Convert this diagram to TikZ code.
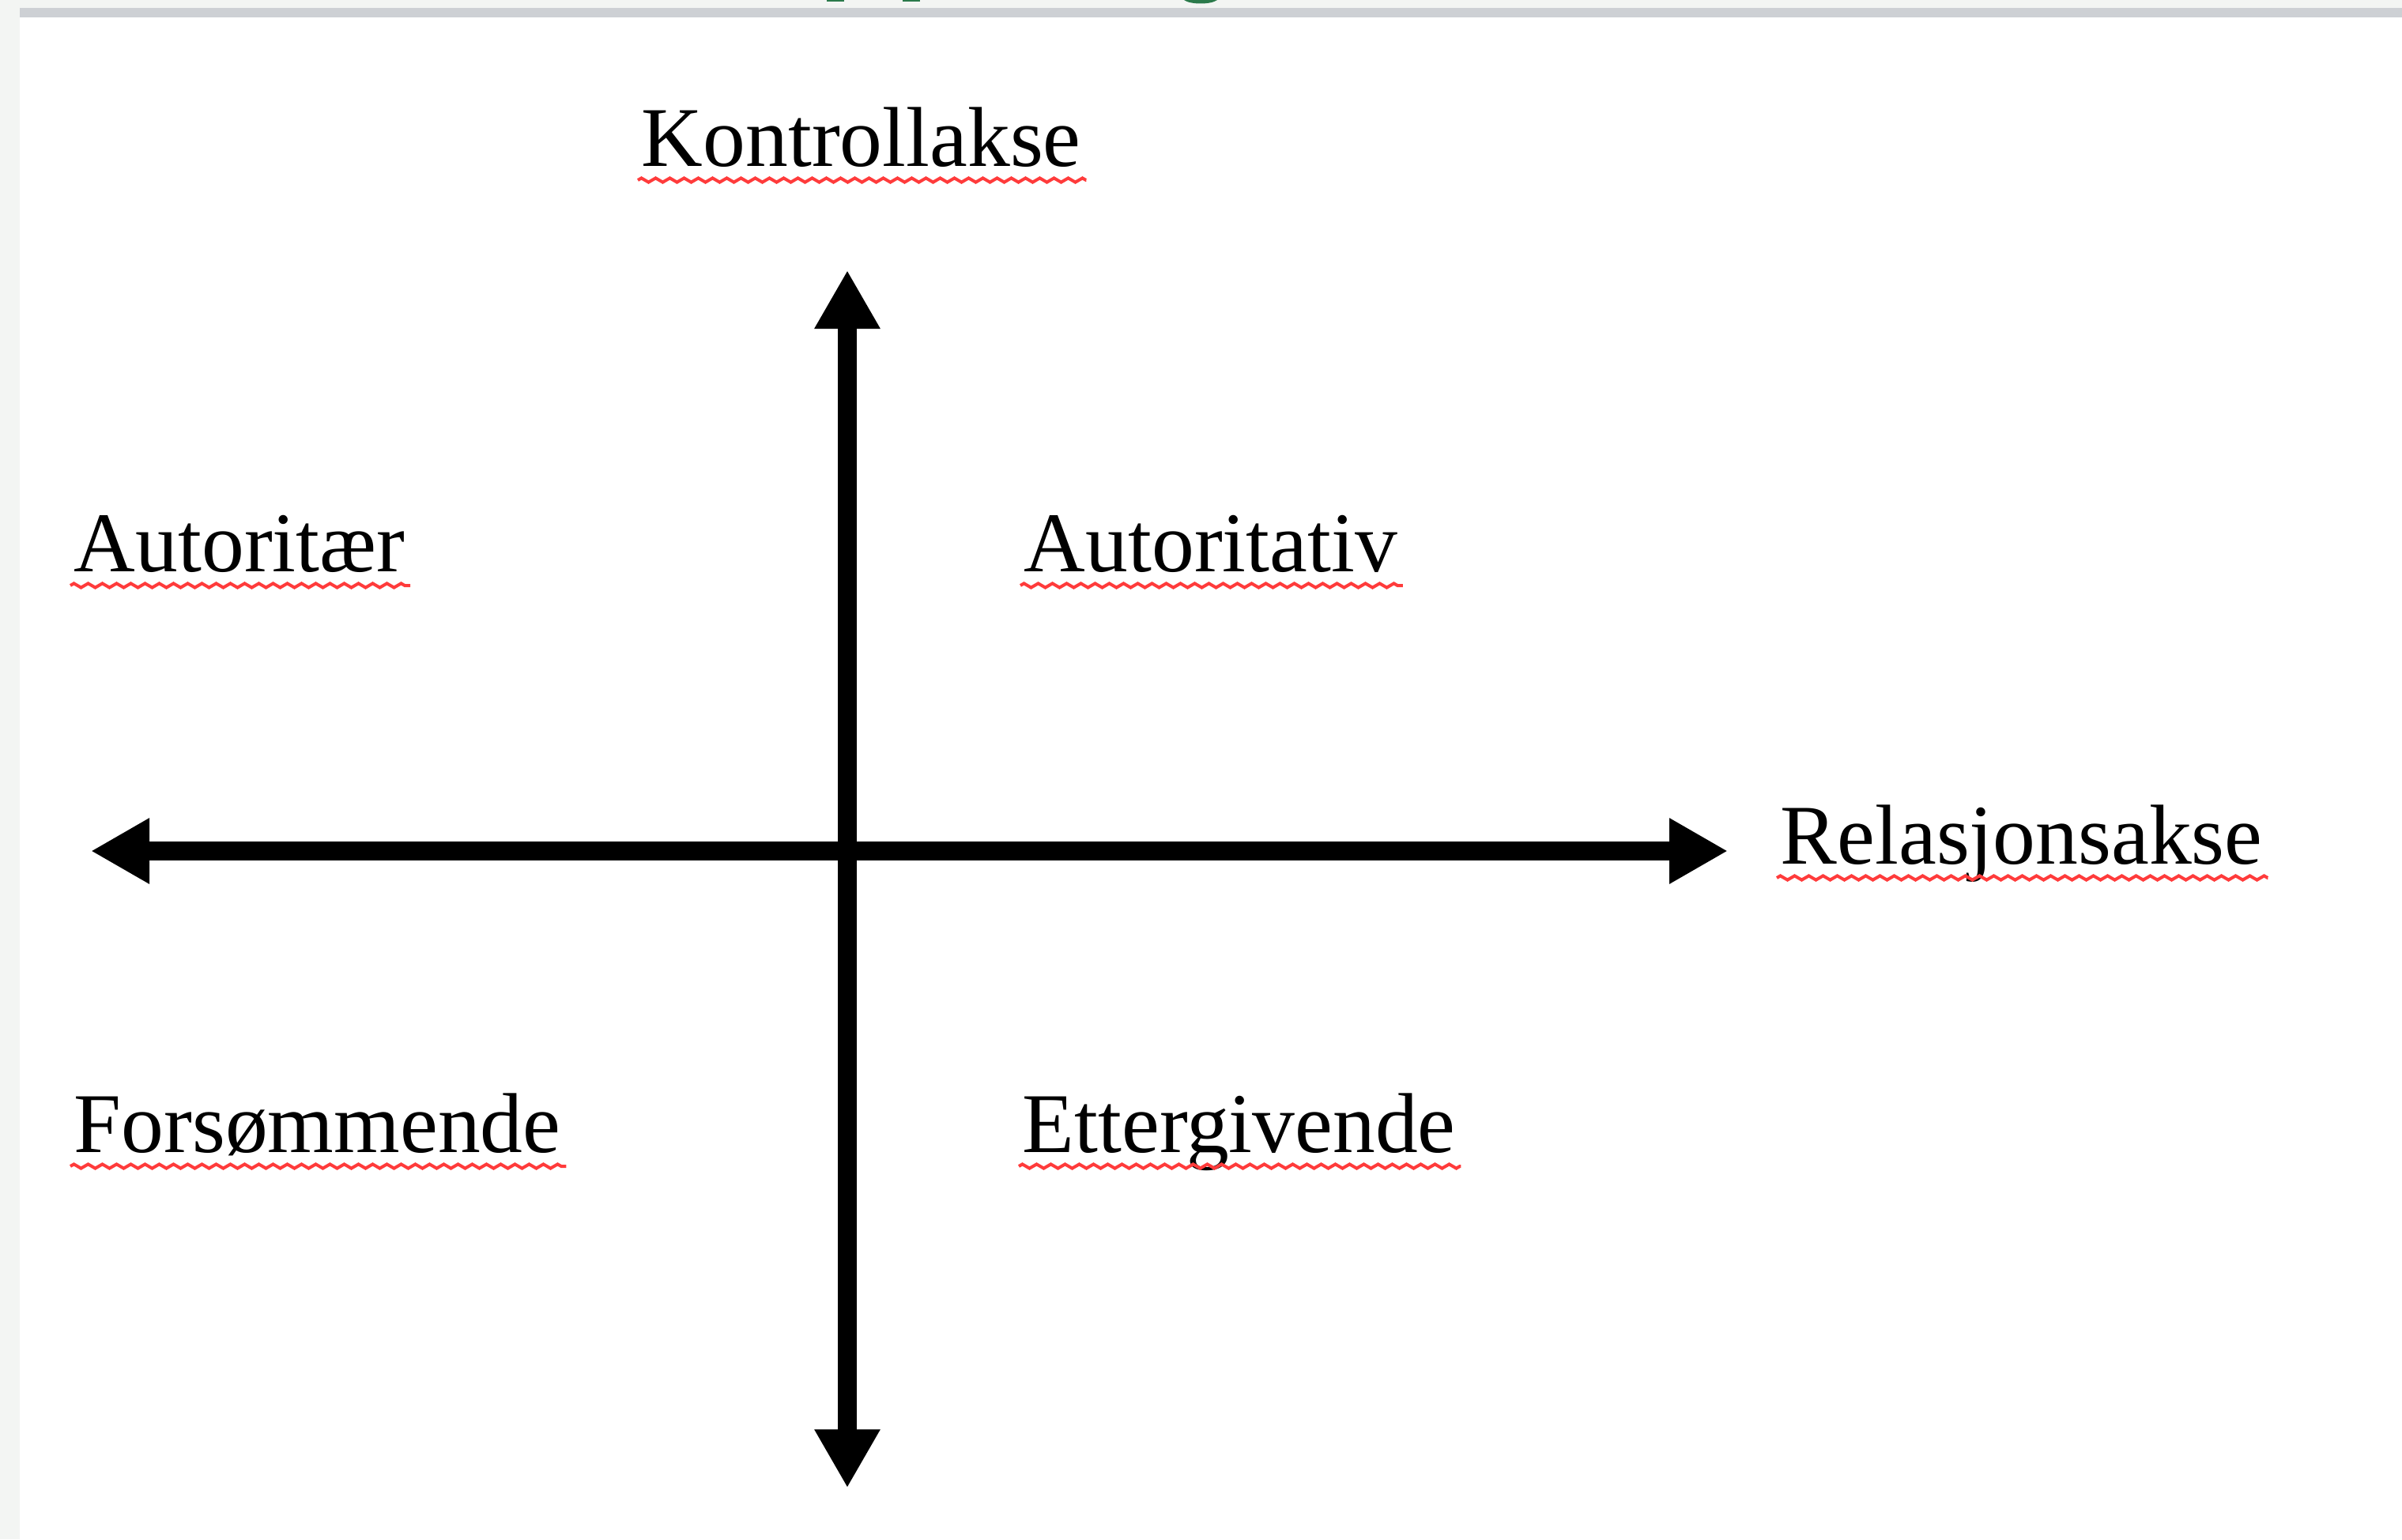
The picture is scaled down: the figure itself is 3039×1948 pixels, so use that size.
\documentclass[tikz,border=0pt]{standalone}
\usepackage{fontspec}
\setmainfont{Liberation Serif}
\usetikzlibrary{arrows.meta,decorations.pathmorphing}
\definecolor{pagegray}{HTML}{F3F5F3}
\definecolor{bargray}{HTML}{CDD0D4}
\definecolor{titlegreen}{HTML}{2B7A4B}
\definecolor{squigred}{HTML}{FF3B3B}
\tikzset{
  lbl/.style={anchor=base west, inner sep=0pt, font=\fontsize{26.9pt}{32pt}\selectfont},
  axis/.style={line width=6pt, {Triangle[length=18.5pt,width=19.5pt]}-{Triangle[length=18.5pt,width=19.5pt]}},
  squig/.style={draw=squigred, line width=1pt, decorate,
    decoration={zigzag, segment length=4.5pt, amplitude=0.65pt}}
}
\begin{document}
\begin{tikzpicture}[x=0.25pt,y=-0.25pt]
\useasboundingbox (0,0) rectangle (3039,1948);
% page background
\fill[pagegray] (0,0) rectangle (3039,1948);
\fill[white] (25,22) rectangle (3039,1948);
\fill[bargray] (25,10) rectangle (3039,22);
% cut-off title remnants
\fill[titlegreen] (1046,0) rectangle (1068,2);
\fill[titlegreen] (1142,0) rectangle (1164,2);
\fill[titlegreen] (1498,0) .. controls (1506,6) and (1532,6) .. (1540,0) -- cycle;
% axes
\coordinate (vtop) at (1072,342);
\coordinate (vbot) at (1072,1883);
\coordinate (hleft) at (115,1077);
\coordinate (hright) at (2186,1077);
\draw[axis] (vbot) -- (vtop);
\draw[axis] (hleft) -- (hright);
% labels
\node[lbl] (kontroll) at (811,210) {Kontrollakse};
\node[lbl] (relasjon) at (2252,1093) {Relasjonsakse};
\node[lbl] (autoritaer) at (93,723) {Autoritær};
\node[lbl] (autoritativ) at (1295,723) {Autoritativ};
\node[lbl] (forsom) at (93,1458) {Forsømmende};
\node[lbl] (etter) at (1293,1458) {Ettergivende};
% spell-check squiggles
\foreach \n in {kontroll,relasjon,autoritaer,autoritativ,forsom,etter}{
  \draw[squig] ([xshift=-1pt,yshift=-4.5pt]\n.base west) -- ([xshift=1.5pt,yshift=-4.5pt]\n.base east);
}
\end{tikzpicture}
\end{document}
